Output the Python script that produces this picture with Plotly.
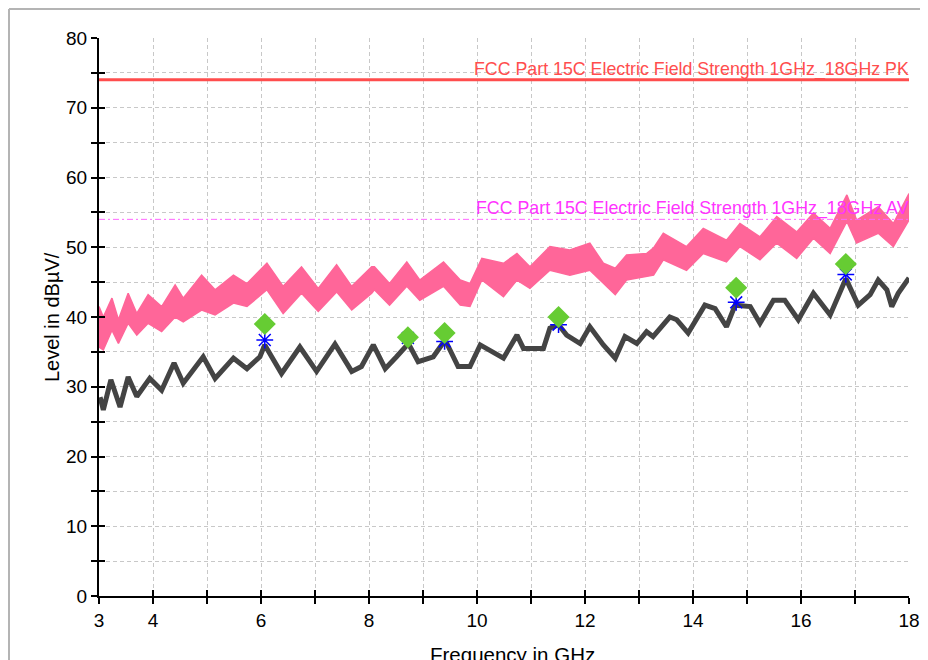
import plotly.graph_objects as go

# ---------------- data ----------------
avg_freq = [3.02, 3.08, 3.22, 3.39, 3.54, 3.70, 3.94, 4.16, 4.39, 4.56, 4.93, 5.15, 5.49, 5.74,
            5.98, 6.07, 6.38, 6.72, 7.03, 7.37, 7.68, 7.86, 8.08, 8.30, 8.51, 8.73, 8.91, 9.19,
            9.41, 9.65, 9.87, 10.06, 10.49, 10.74, 10.86, 11.23, 11.35, 11.51, 11.66, 11.91,
            12.09, 12.34, 12.56, 12.74, 12.96, 13.14, 13.26, 13.57, 13.70, 13.91, 14.22, 14.41,
            14.62, 14.78, 15.06, 15.24, 15.49, 15.70, 15.95, 16.23, 16.54, 16.83, 17.06, 17.28,
            17.43, 17.59, 17.68, 17.80, 18.0]
avg_level = [28.5, 26.7, 31.0, 27.1, 31.4, 28.6, 31.2, 29.5, 33.4, 30.5, 34.3, 31.2, 34.1, 32.6,
             34.3, 36.0, 31.9, 35.7, 32.2, 36.1, 32.2, 32.9, 36.0, 32.6, 34.3, 36.2, 33.6, 34.3,
             36.7, 32.9, 32.9, 36.0, 34.1, 37.4, 35.5, 35.5, 38.4, 38.9, 37.4, 36.2,
             38.6, 36.0, 34.1, 37.2, 36.2, 37.9, 37.2, 40.0, 39.6, 37.7, 41.7, 41.2,
             38.6, 41.7, 41.5, 39.1, 42.4, 42.4, 39.6, 43.4, 40.3, 45.5, 41.7, 43.2,
             45.3, 43.9, 41.5, 43.4, 45.6]

pk_freq = [3.0, 3.08, 3.24, 3.36, 3.54, 3.70, 3.91, 4.16, 4.41, 4.56, 4.90, 5.15, 5.49, 5.74,
           6.11, 6.41, 6.75, 7.06, 7.40, 7.68, 8.05, 8.10, 8.38, 8.70, 8.94, 9.38, 9.69, 9.87,
           10.09, 10.49, 10.74, 10.98, 11.35, 11.72, 12.09, 12.34, 12.56, 12.77, 13.14, 13.27,
           13.45, 13.88, 14.19, 14.62, 14.87, 15.24, 15.55, 15.92, 16.23, 16.54, 16.85, 17.03,
           17.43, 17.71, 18.0]
pk_upper = [41.5, 40.0, 42.7, 39.6, 43.4, 40.5, 43.2, 41.5, 44.6, 42.7, 46.0, 43.9, 46.0, 44.8,
            47.7, 44.4, 47.2, 44.1, 47.5, 44.4, 47.2, 47.2, 44.8, 47.9, 45.3, 47.9, 45.3, 44.8,
            48.4, 47.7, 49.1, 47.2, 50.1, 49.6, 50.6, 47.7, 47.0, 48.9, 49.1, 49.9,
            52.0, 50.1, 52.7, 51.0, 53.4, 51.5, 54.4, 52.2, 54.9, 52.7, 57.5, 53.9,
            55.8, 53.4, 57.7]
pk_lower = [35.7, 35.3, 38.1, 36.2, 39.1, 37.4, 39.1, 37.9, 40.0, 39.3, 41.0, 40.3, 42.0, 41.5,
            43.9, 40.5, 43.4, 40.8, 43.6, 41.0, 43.4, 43.9, 41.7, 44.4, 42.4, 44.4, 41.7, 41.5,
            45.3, 42.9, 45.3, 44.1, 46.7, 46.0, 46.7, 44.8, 43.2, 45.3, 45.8, 46.0,
            48.2, 46.7, 49.1, 47.9, 50.1, 48.2, 50.6, 48.4, 51.3, 49.1, 53.7, 50.6,
            52.0, 50.1, 53.9]

final_freq = [6.07, 8.72, 9.40, 11.51, 14.80, 16.83]
final_pk = [39.0, 37.1, 37.7, 40.0, 44.2, 47.6]
final_av = [36.7, 37.0, 36.5, 38.9, 42.1, 46.1]

limit_range = [3, 18]
limit_pk = 74
limit_av = 54
limit_pk_text = "FCC Part 15C Electric Field Strength 1GHz_18GHz PK"
limit_av_text = "FCC Part 15C Electric Field Strength 1GHz_18GHz AV"

x_tickvals = list(range(3, 19))
x_ticktext = ["3", "4", "", "6", "", "8", "", "10", "", "12", "", "14", "", "16", "", "18"]
y_tickvals = list(range(0, 81, 5))
y_ticktext = ["0", "", "10", "", "20", "", "30", "", "40", "", "50", "", "60", "", "70", "", "80"]

# ---------------- figure ----------------
FONT = "Arial, 'Liberation Sans', sans-serif"
PINK = "#ff6699"
GRID = "#c8c8c8"

fig = go.Figure()

# peak band
fig.add_trace(go.Scatter(x=pk_freq, y=pk_lower, mode="lines", line=dict(color=PINK, width=1.5),
                         showlegend=False, hoverinfo="skip"))
fig.add_trace(go.Scatter(x=pk_freq, y=pk_upper, mode="lines", line=dict(color=PINK, width=1.5),
                         fill="tonexty", fillcolor=PINK, showlegend=False, hoverinfo="skip"))
# average trace
fig.add_trace(go.Scatter(x=avg_freq, y=avg_level, mode="lines",
                         line=dict(color="#444444", width=5), showlegend=False))
# limit lines
fig.add_trace(go.Scatter(x=limit_range, y=[limit_pk, limit_pk], mode="lines",
                         line=dict(color="#ff4d4d", width=3), showlegend=False))
fig.add_trace(go.Scatter(x=limit_range, y=[limit_av, limit_av], mode="lines",
                         line=dict(color="#ff66ff", width=1, dash="6px,3px,2px,3px"), showlegend=False))
# final markers
fig.add_trace(go.Scatter(x=final_freq, y=final_av, mode="markers",
                         marker=dict(symbol="asterisk-open", size=14, color="#0000ff",
                                     line=dict(color="#0000ff", width=1.5)), showlegend=False))
fig.add_trace(go.Scatter(x=final_freq, y=final_pk, mode="markers",
                         marker=dict(symbol="diamond", size=17, color="#66cc33",
                                     line=dict(width=0)), showlegend=False))
# dummy trace for inner-tick overlay axes
fig.add_trace(go.Scatter(x=[3], y=[0], xaxis="x2", yaxis="y2", mode="markers",
                         marker=dict(opacity=0), showlegend=False, hoverinfo="skip"))

fig.add_annotation(x=18, y=limit_pk, xref="x", yref="y", text=limit_pk_text, showarrow=False,
                   xanchor="right", yanchor="bottom", yshift=-2, xshift=2,
                   font=dict(family=FONT, size=17.8, color="#ff4d4d"))
fig.add_annotation(x=18, y=limit_av, xref="x", yref="y", text=limit_av_text, showarrow=False,
                   xanchor="right", yanchor="bottom", yshift=-2, xshift=2,
                   font=dict(family=FONT, size=17.8, color="#ff33ff"))

# axis titles
fig.add_annotation(x=0.511, y=-0.0806, xref="paper", yref="paper", text="Frequency in GHz",
                   showarrow=False, xanchor="center", yanchor="top",
                   font=dict(family=FONT, size=20.5, color="#000"))
fig.add_annotation(x=-0.058, y=0.5, xref="paper", yref="paper", text="Level in dBµV/",
                   showarrow=False, xanchor="center", yanchor="middle", textangle=-90,
                   font=dict(family=FONT, size=20, color="#000"))

# outer frame
fig.add_shape(type="line", xref="paper", yref="paper", x0=-0.1111, x1=1.2, y0=1.052, y1=1.052,
              line=dict(color="#b4b4b4", width=2))
fig.add_shape(type="line", xref="paper", yref="paper", x0=-0.1111, x1=-0.1111, y0=-0.2, y1=1.052,
              line=dict(color="#b4b4b4", width=2))

axis_common = dict(showline=True, linecolor="#000", linewidth=2, tickcolor="#000", tickwidth=2,
                   ticklen=6, zeroline=False, automargin=False,
                   tickfont=dict(family=FONT, size=19, color="#000"))

fig.update_layout(
    width=920, height=652, autosize=False,
    margin=dict(l=91, r=19, t=30, b=64),
    paper_bgcolor="white", plot_bgcolor="white",
    xaxis=dict(range=[3, 18], tickmode="array", tickvals=x_tickvals, ticktext=x_ticktext,
               ticks="outside", showgrid=True, gridcolor=GRID, gridwidth=1, griddash="4px,3px",
               **axis_common),
    yaxis=dict(range=[0, 80], tickmode="array", tickvals=y_tickvals, ticktext=y_ticktext,
               ticks="outside", showgrid=True, gridcolor=GRID, gridwidth=1, griddash="4px,3px",
               **axis_common),
    xaxis2=dict(range=[3, 18], overlaying="x", anchor="y2", side="bottom", tickmode="array",
                tickvals=x_tickvals, ticks="inside", showticklabels=False, showgrid=False,
                showline=False, zeroline=False, automargin=False,
                tickcolor="#000", tickwidth=2, ticklen=6),
    yaxis2=dict(range=[0, 80], overlaying="y", anchor="x2", side="left", tickmode="array",
                tickvals=y_tickvals, ticks="inside", showticklabels=False, showgrid=False,
                showline=False, zeroline=False, automargin=False,
                tickcolor="#000", tickwidth=2, ticklen=6),
)

fig.write_html("out.html")
